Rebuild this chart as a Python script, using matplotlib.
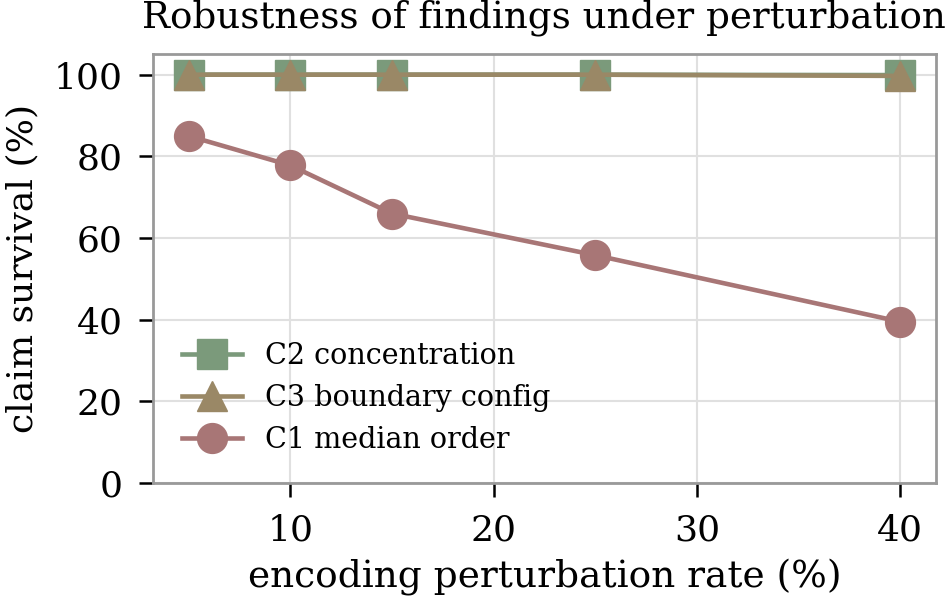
import matplotlib
matplotlib.use('Agg')
import matplotlib.pyplot as plt

# Datos
rates = [5, 10, 15, 25, 40]
c2_concentration = [100, 100, 100, 100, 99.9]
c3_boundary = [100, 100, 100, 100, 99.7]
c1_median = [85, 77.8, 66, 55.8, 39.5]

plt.rcParams['font.family'] = ['DejaVu Serif']

fig = plt.figure(figsize=(9.5, 6.03), dpi=100)
ax = fig.add_axes([0.161, 0.199, 0.824, 0.711])

ax.plot(rates, c2_concentration, marker='s', color='#7b9a7b', lw=3.3, ms=21.5, label='C2 concentration')
ax.plot(rates, c3_boundary, marker='^', color='#9a8866', lw=3.3, ms=21.5, label='C3 boundary config')
ax.plot(rates, c1_median, marker='o', color='#a87676', lw=3.3, ms=21.5, label='C1 median order')

ax.set_ylim(0, 105)
ax.set_yticks([0, 20, 40, 60, 80, 100])
ax.set_xticks([10, 20, 30, 40])
ax.grid(True, color='#e0e0e0', lw=1.5)
ax.set_axisbelow(True)
for s in ax.spines.values():
    s.set_color('#999999')
    s.set_linewidth(2)
ax.tick_params(labelsize=26, length=10, width=1.8, color='black', pad=12)

ax.set_xlabel('encoding perturbation rate (%)', fontsize=27, labelpad=8)
ax.set_ylabel('claim survival (%)', fontsize=26, labelpad=10)
ax.set_title('Robustness of findings under perturbation', fontsize=26.8, pad=19)

ax.legend(loc='lower left', fontsize=20.6, frameon=False, handlelength=2.1, borderaxespad=0.6)

fig.savefig('out.png', dpi=100)
